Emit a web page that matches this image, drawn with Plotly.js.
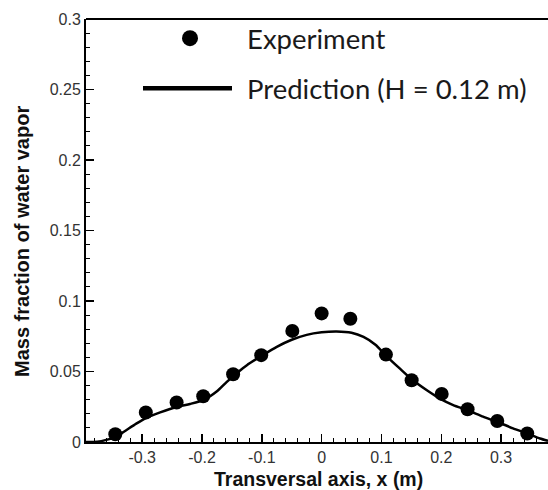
<!DOCTYPE html>
<html>
<head>
<meta charset="utf-8">
<script src="https://cdn.plot.ly/plotly-3.0.1.min.js"></script>
<style>html,body{margin:0;padding:0;background:#fff;}#chart{width:548px;height:490px;}</style>
</head>
<body>
<div id="chart"></div>
<script>
// Experiment data
const expX = [-0.345, -0.294, -0.2425, -0.198, -0.148, -0.101, -0.049, 0.0, 0.048, 0.1075, 0.1505, 0.2007, 0.244, 0.2937, 0.3438];
const expY = [0.0055, 0.0209, 0.028, 0.0325, 0.048, 0.0616, 0.0788, 0.0912, 0.0874, 0.062, 0.0438, 0.0341, 0.0232, 0.0149, 0.006];
// Prediction curve (H = 0.12 m)
const predX = [-0.394, -0.375, -0.36, -0.345, -0.33, -0.31, -0.293, -0.27, -0.2425, -0.22, -0.198, -0.175, -0.159, -0.14, -0.125, -0.1, -0.075, -0.05, -0.025, 0.0, 0.025, 0.05, 0.07, 0.09, 0.107, 0.131, 0.15, 0.176, 0.2, 0.22, 0.244, 0.27, 0.294, 0.32, 0.344, 0.365, 0.3785];
const predY = [0.0, 0.0002, 0.0015, 0.0035, 0.0075, 0.013, 0.0172, 0.021, 0.0248, 0.027, 0.0297, 0.036, 0.0425, 0.0495, 0.0545, 0.0612, 0.0675, 0.0725, 0.076, 0.0778, 0.0784, 0.0775, 0.0745, 0.069, 0.0615, 0.052, 0.0447, 0.0367, 0.0302, 0.0262, 0.0225, 0.018, 0.0142, 0.0097, 0.006, 0.0025, 0.0008];
const xTicks = [-0.3, -0.2, -0.1, 0, 0.1, 0.2, 0.3];
const xTickText = ['-0.3', '-0.2', '-0.1', '0', '0.1', '0.2', '0.3'];
const yTicks = [0, 0.05, 0.1, 0.15, 0.2, 0.25, 0.3];
const yTickText = ['0', '0.05', '0.1', '0.15', '0.2', '0.25', '0.3'];
const legendLabels = ['Experiment', 'Prediction (H = 0.12 m)'];

const traces = [
  {x: predX, y: predY, mode: 'lines', type: 'scatter', name: legendLabels[1],
   line: {color: '#000', width: 2.5, shape: 'spline', smoothing: 0.6}, showlegend: false},
  {x: expX, y: expY, mode: 'markers', type: 'scatter', name: legendLabels[0],
   marker: {color: '#000', size: 14, symbol: 'circle'}, showlegend: false, cliponaxis: false}
];

const tickFont = {family: 'Liberation Sans, Arial, sans-serif', size: 16, color: '#333'};
const axTitleFont = {family: 'Liberation Sans, Arial, sans-serif', size: 19.5, color: '#111', weight: 'bold'};
const yTitleFont = {family: 'Liberation Sans, Arial, sans-serif', size: 20, color: '#111', weight: 'bold'};
const legFont = {family: 'Lato, sans-serif', size: 27.5, color: '#1a1a1a'};

const layout = {
  width: 548, height: 490,
  margin: {l: 86, r: 0, t: 19, b: 48},
  paper_bgcolor: '#fff', plot_bgcolor: '#fff',
  showlegend: false,
  xaxis: {
    range: [-0.394, 0.3785], showgrid: false, zeroline: false,
    showline: true, linecolor: '#000', linewidth: 2,
    tickmode: 'array', tickvals: xTicks, ticktext: xTickText,
    ticks: 'inside', ticklen: 8, tickwidth: 1.5, tickcolor: '#000',
    minor: {dtick: 0.02, tick0: 0, ticks: 'inside', ticklen: 4, tickwidth: 1, tickcolor: '#000'},
    tickfont: tickFont
  },
  yaxis: {
    range: [0, 0.3], showgrid: false, zeroline: false,
    showline: true, linecolor: '#000', linewidth: 2,
    tickmode: 'array', tickvals: yTicks, ticktext: yTickText,
    ticks: 'inside', ticklen: 8, tickwidth: 1.5, tickcolor: '#000',
    minor: {dtick: 0.01, tick0: 0, ticks: 'inside', ticklen: 4, tickwidth: 1, tickcolor: '#000'},
    tickfont: tickFont
  },
  shapes: [
    {type: 'line', xref: 'paper', yref: 'paper', x0: 0, x1: 1, y0: 1, y1: 1, line: {color: '#000', width: 2}},
    {type: 'line', xref: 'paper', yref: 'paper', x0: (143-86)/462, x1: (232-86)/462, y0: (441-88)/423+0.002, y1: (441-88)/423+0.002, line: {color: '#000', width: 4.5}},
    {type: 'circle', xref: 'paper', yref: 'paper', x0: (182-86)/462, x1: (198-86)/462, y0: (441-46)/423+0.002, y1: (441-30)/423+0.002, fillcolor: '#000', line: {width: 0}}
  ],
  annotations: [
    {text: legendLabels[0], xref: 'paper', yref: 'paper', x: (245-86)/462, y: (441-38)/423, xanchor: 'left', yanchor: 'middle', showarrow: false, font: legFont},
    {text: legendLabels[1], xref: 'paper', yref: 'paper', x: (245-86)/462, y: (441-87)/423, xanchor: 'left', yanchor: 'middle', showarrow: false, font: legFont},
    {text: 'Transversal axis, x (m)', xref: 'paper', yref: 'paper', x: (318-86)/462, y: (441-478)/423, xanchor: 'center', yanchor: 'middle', showarrow: false, font: axTitleFont},
    {text: 'Mass fraction of water vapor', xref: 'paper', yref: 'paper', x: (22-86)/462, y: (441-241)/423, xanchor: 'center', yanchor: 'middle', textangle: -90, showarrow: false, font: yTitleFont}
  ]
};

Plotly.newPlot('chart', traces, layout, {staticPlot: true, displayModeBar: false});
</script>
</body>
</html>
